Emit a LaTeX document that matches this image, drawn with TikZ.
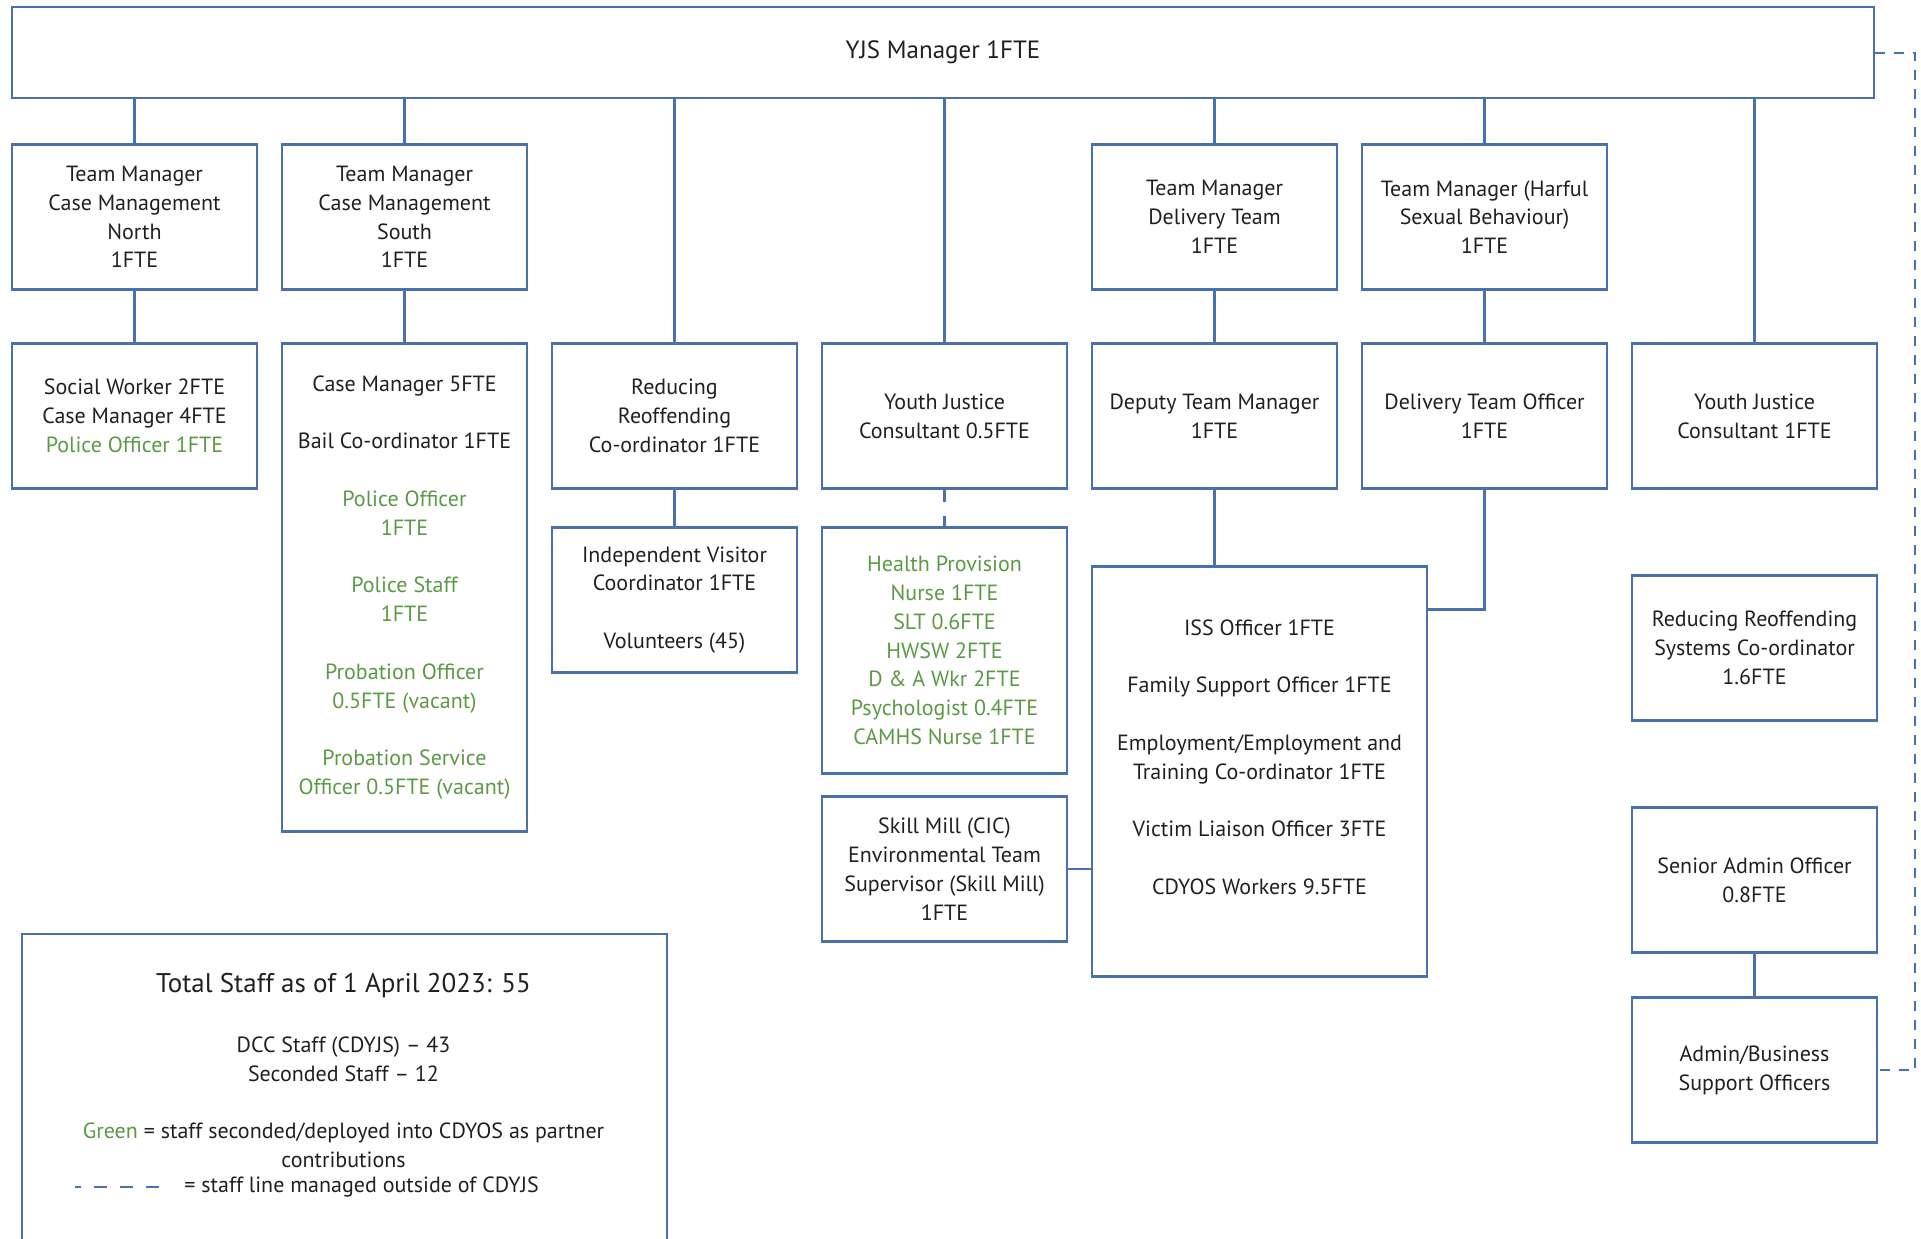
\documentclass[tikz,border=0pt]{standalone}
\usepackage{fontspec}
\setmainfont{PT Sans}
\usepackage{tikz}
\usetikzlibrary{positioning}
\definecolor{orgblue}{HTML}{4A70B0}
\definecolor{partnergreen}{HTML}{5B9A45}
\definecolor{inkgrey}{HTML}{231F20}
\newcommand{\partner}[1]{\textcolor{partnergreen}{#1}}
\tikzstyle{role}=[%
      rectangle, draw=orgblue, line width=1.1pt, align=center,
      minimum width=122.5pt, minimum height=72.5pt, inner sep=4pt
]
\tikzstyle{head}=[%
      rectangle, draw=orgblue, line width=1.1pt, align=center,
      minimum width=931pt, minimum height=45.5pt, font=\fontsize{12.5}{15}\selectfont
]
\tikzstyle{key}=[%
      rectangle, draw=none, align=center, inner sep=0pt
]
\tikzstyle{link}=[draw=orgblue, line width=1.1pt]
\tikzstyle{outlink}=[draw=orgblue, line width=1pt, dash pattern=on 5pt off 4.5pt]

\begin{document}
\begin{tikzpicture}[x=0.5pt, y=-0.5pt,
    text=inkgrey,
    font=\fontsize{11}{14.4}\selectfont,
    node distance=11.4pt,
]
    \useasboundingbox (0,0) rectangle (1921,1238);
    \node[head] (yjs) at (943,52.5) {YJS Manager 1FTE};
    % first tier
    \node[role] (tmn) at (134.5,217) {Team Manager\\Case Management\\North\\1FTE};
    \node[role] (tms) [right = of tmn] {Team Manager\\Case Management\\South\\1FTE};
    % second tier
    \node[role] (sw) [below = 25.9pt of tmn] {Social Worker 2FTE\\Case Manager 4FTE\\\partner{Police Officer 1FTE}};
    \node[role, minimum height=244pt] (cm) [below = 25.9pt of tms]
        {Case Manager 5FTE\\[14.4pt]
         Bail Co-ordinator 1FTE\\[14.4pt]
         \partner{Police Officer}\\\partner{1FTE}\\[14.4pt]
         \partner{Police Staff}\\\partner{1FTE}\\[14.4pt]
         \partner{Probation Officer}\\\partner{0.5FTE (vacant)}\\[14.4pt]
         \partner{Probation Service}\\\partner{Officer 0.5FTE (vacant)}};
    \node[role] (rr) [right = of cm.north east, anchor=north west] {Reducing\\Reoffending\\Co-ordinator 1FTE};
    \node[role] (yjc5) [right = of rr] {Youth Justice\\Consultant 0.5FTE};
    \node[role] (dep) [right = of yjc5] {Deputy Team Manager\\1FTE};
    \node[role] (dto) [right = of dep] {Delivery Team Officer\\1FTE};
    \node[role] (yjc1) [right = of dto] {Youth Justice\\Consultant 1FTE};
    \node[role] (tmd) [above = 25.9pt of dep] {Team Manager\\Delivery Team\\1FTE};
    \node[role] (tmh) [above = 25.9pt of dto] {Team Manager (Harful\\Sexual Behaviour)\\1FTE};
    % third tier
    \node[role] (iv) [below = 18.4pt of rr] {Independent Visitor\\Coordinator 1FTE\\[14.4pt]Volunteers (45)};
    \node[role, minimum height=123pt, text=partnergreen] (hp) [below = 18.4pt of yjc5]
        {Health Provision\\Nurse 1FTE\\SLT 0.6FTE\\HWSW 2FTE\\D \& A Wkr 2FTE\\Psychologist 0.4FTE\\CAMHS Nurse 1FTE};
    \node[role] (sm) [below = 10.4pt of hp] {Skill Mill (CIC)\\Environmental Team\\Supervisor (Skill Mill)\\1FTE};
    \node[role, minimum width=167.5pt, minimum height=205pt] (iss) [below = 37.9pt of dep.south west, anchor=north west]
        {ISS Officer 1FTE\\[14.4pt]
         Family Support Officer 1FTE\\[14.4pt]
         Employment/Employment and\\Training Co-ordinator 1FTE\\[14.4pt]
         Victim Liaison Officer 3FTE\\[14.4pt]
         CDYOS Workers 9.5FTE\\\mbox{}};
    \node[role] (rrs) [below = 42.4pt of yjc1] {Reducing Reoffending\\Systems Co-ordinator\\1.6FTE};
    \node[role] (sao) [below = 42.4pt of rrs] {Senior Admin Officer\\0.8FTE};
    \node[role] (abs) [below = 21.4pt of sao] {Admin/Business\\Support Officers};
    % connectors
    \foreach \n in {tmn, tms, rr, yjc5, tmd, tmh, yjc1}
      \draw[link] (yjs.south -| \n.north) -- (\n.north);
    \draw[link] (tmn) -- (sw);
    \draw[link] (tms) -- (cm);
    \draw[link] (tmd) -- (dep);
    \draw[link] (tmh) -- (dto);
    \draw[link] (rr) -- (iv);
    \draw[link, dash pattern=on 6pt off 7pt] (yjc5) -- (hp);
    \draw[link] (dep) -- (dep.south |- iss.north);
    \draw[link] (dto.south) |- ([yshift=-22pt]iss.north east);
    \draw[link] (sm.east) -- (sm.east -| iss.west);
    \draw[link] (sao) -- (abs);
    \draw[outlink] (yjs.east) -- ++(20pt,0) |- (abs.east);
    % legend
    \node[rectangle, draw=orgblue, line width=1.1pt, minimum width=322.5pt, minimum height=170pt, anchor=north west] (legend) at (21,933) {};
    \node[key, font=\fontsize{13.5}{16}\selectfont] (ktitle) at (343.5,986) {Total Staff as of 1 April 2023: 55};
    \node[key] (kcount) at (343.5,1059) {DCC Staff (CDYJS) – 43\\Seconded Staff – 12};
    \node[key] (kgreen) at (343.5,1145) {\partner{Green} = staff seconded/deployed into CDYOS as partner\\contributions};
    \node[key, anchor=west] (kdash) at (184,1187) {= staff line managed outside of CDYJS};
    \draw[outlink, dash pattern=on 6.5pt off 6.5pt, dash phase=3.5pt] ([xshift=-54.5pt]kdash.west) -- ([xshift=-9.5pt]kdash.west);
\end{tikzpicture}
\end{document}
